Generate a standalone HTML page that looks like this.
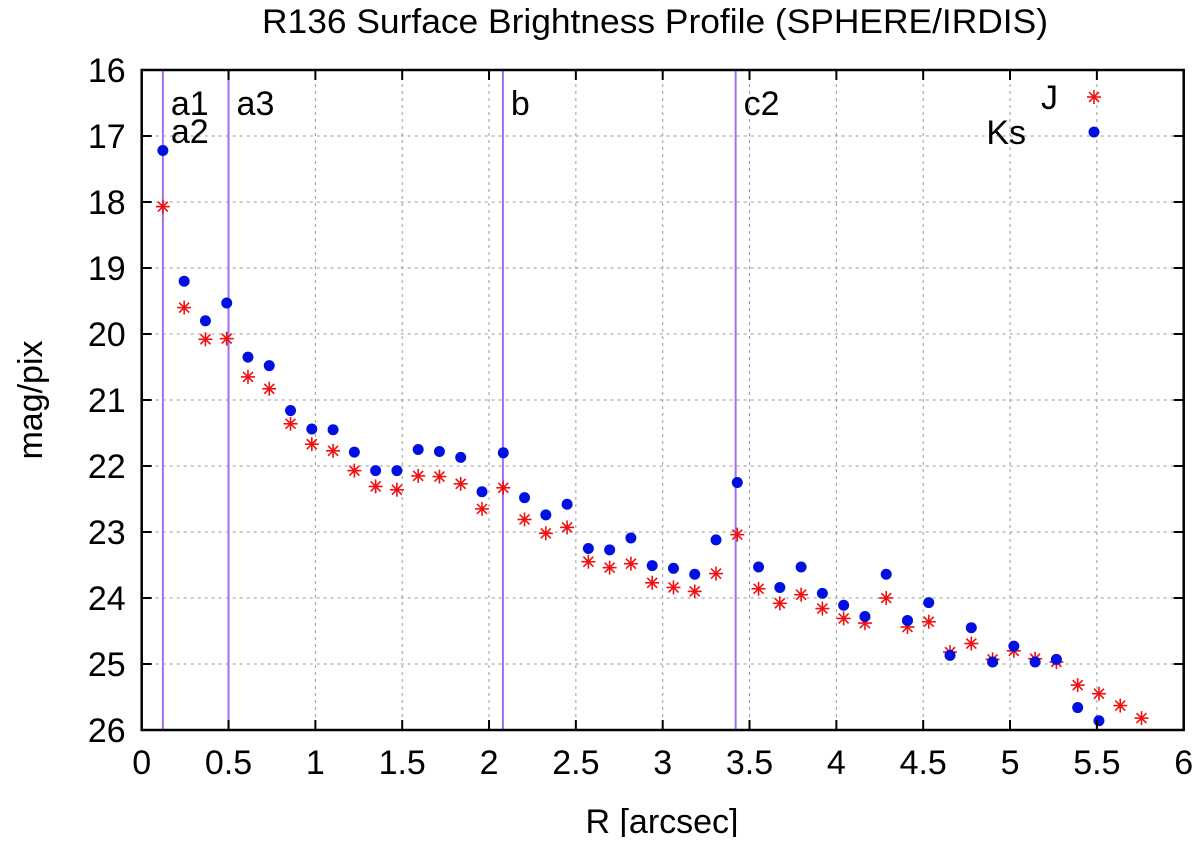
<!DOCTYPE html>
<html><head><meta charset="utf-8"><style>
html,body{margin:0;padding:0;background:#fff;}
svg text{font-family:"Liberation Sans",sans-serif;fill:#000;}
</style></head><body>
<svg id="chart" width="1200" height="837" xmlns="http://www.w3.org/2000/svg">
<text x="655" y="33" font-size="34" text-anchor="middle" textLength="786" lengthAdjust="spacingAndGlyphs">R136 Surface Brightness Profile (SPHERE/IRDIS)</text>
<text x="662" y="833" font-size="34" text-anchor="middle">R [arcsec]</text>
<text transform="translate(42,400) rotate(-90)" font-size="34" text-anchor="middle">mag/pix</text>
<g id="grid"></g>
<g id="vlines"></g>
<g id="marks"></g>
<g id="axes"></g>
<g>
<text x="1058" y="109" font-size="34" text-anchor="end">J</text>
<text x="1026" y="144" font-size="34" text-anchor="end">Ks</text>
</g>
</svg>
<script>
const R = [0.122,0.2445,0.367,0.4895,0.612,0.7345,0.857,0.9795,1.102,1.2245,1.347,1.4695,1.592,1.7145,1.837,1.9595,2.082,2.2045,2.327,2.4495,2.572,2.6945,2.817,2.9395,3.062,3.1845,3.307,3.4295,3.552,3.6745,3.797,3.9195,4.042,4.1645,4.287,4.4095,4.532,4.6545,4.777,4.8995,5.022,5.1445,5.267,5.3895,5.512,5.6345,5.757];
const J = [18.07,19.6,20.08,20.07,20.65,20.83,21.36,21.67,21.77,22.07,22.31,22.36,22.15,22.16,22.27,22.65,22.33,22.81,23.02,22.93,23.45,23.54,23.48,23.77,23.84,23.90,23.63,23.04,23.86,24.08,23.95,24.16,24.31,24.38,24.00,24.44,24.36,24.82,24.69,24.93,24.80,24.92,24.97,25.32,25.45,25.63,25.82];
const KS = [17.22,19.2,19.8,19.53,20.35,20.48,21.16,21.44,21.45,21.79,22.07,22.07,21.75,21.78,21.87,22.39,21.80,22.48,22.74,22.58,23.25,23.27,23.09,23.51,23.55,23.64,23.12,22.25,23.53,23.84,23.53,23.93,24.11,24.28,23.64,24.34,24.07,24.87,24.45,24.97,24.73,24.97,24.93,25.66,25.86];
const XTICKS = [0,0.5,1,1.5,2,2.5,3,3.5,4,4.5,5,5.5,6];
const XTICK_LABELS = ["0","0.5","1","1.5","2","2.5","3","3.5","4","4.5","5","5.5","6"];
const YTICKS = [16,17,18,19,20,21,22,23,24,25,26];
const VLINE_POS = [0.122,0.5,2.08,3.42];
const VLINE_LABELS = ["a1\na2","a3","b","c2"];

const L=141.7, Rt=1183.7, T=70, B=730;
const xs = v => L + (v-0)/(6-0)*(Rt-L);
const ys = v => T + (v-16)/(26-16)*(B-T);
const NS="http://www.w3.org/2000/svg";
function mk(tag, attrs, parent){const e=document.createElementNS(NS,tag);for(const k in attrs)e.setAttribute(k,attrs[k]);parent.appendChild(e);return e;}
const grid=document.getElementById('grid'), axes=document.getElementById('axes'), marks=document.getElementById('marks'), vl=document.getElementById('vlines');

XTICKS.forEach((t,i)=>{
  const x=xs(t);
  if(i>0&&i<XTICKS.length-1){const g=mk('line',{x1:x,x2:x,y1:T,y2:B,stroke:'#999','stroke-width':1,'stroke-dasharray':'3,4'},grid);
  
  }
  mk('line',{x1:x,x2:x,y1:B,y2:B-10,stroke:'#000','stroke-width':2},axes);
  mk('line',{x1:x,x2:x,y1:T,y2:T+10,stroke:'#000','stroke-width':2},axes);
  const tx=mk('text',{x:x,y:B+44,'font-size':34,'text-anchor':'middle'},axes);
  tx.textContent=XTICK_LABELS[i];
  
  
});
YTICKS.forEach((t,i)=>{
  const y=ys(t);
  if(i>0&&i<YTICKS.length-1){const g=mk('line',{x1:L,x2:Rt,y1:y,y2:y,stroke:'#999','stroke-width':1,'stroke-dasharray':'3,4'},grid);
  
  }
  mk('line',{x1:L,x2:L+10,y1:y,y2:y,stroke:'#000','stroke-width':2},axes);
  mk('line',{x1:Rt,x2:Rt-10,y1:y,y2:y,stroke:'#000','stroke-width':2},axes);
  const tx=mk('text',{x:L-16,y:y+12,'font-size':34,'text-anchor':'end'},axes);
  tx.textContent=String(t);
  
  
});
const frame=mk('rect',{x:L,y:T,width:Rt-L,height:B-T,fill:'none',stroke:'#000','stroke-width':2.5},axes);



VLINE_POS.forEach((p,i)=>{
  const x=xs(p);
  const l=mk('line',{x1:x,x2:x,y1:T,y2:B,stroke:'#a070f0','stroke-width':2},vl);
  
  
  VLINE_LABELS[i].split('\n').forEach((s,k)=>{
    const t=mk('text',{x:x+8,y:115+k*28,'font-size':34},vl);
    t.textContent=s;
    
    
  });
});

function star(cx,cy,parent){
  const g=mk('g',{stroke:'#f01010','stroke-width':1.6},parent);
  const r=7;
  [[0,r],[r,0],[r*0.71,r*0.71],[r*0.71,-r*0.71]].forEach(d=>mk('line',{x1:cx-d[0],y1:cy-d[1],x2:cx+d[0],y2:cy+d[1]},g));
  return g;
}
J.forEach((v,i)=>{
  const g=star(xs(R[i]),ys(v),marks);
  
  
});
KS.forEach((v,i)=>{
  const c=mk('circle',{cx:xs(R[i]),cy:ys(v),r:5.5,fill:'#0010e0'},marks);
  
  
});
const lj=star(1094,97,marks);


const lk=mk('circle',{cx:1094,cy:132,r:5.5,fill:'#0010e0'},marks);


</script>
</body></html>
